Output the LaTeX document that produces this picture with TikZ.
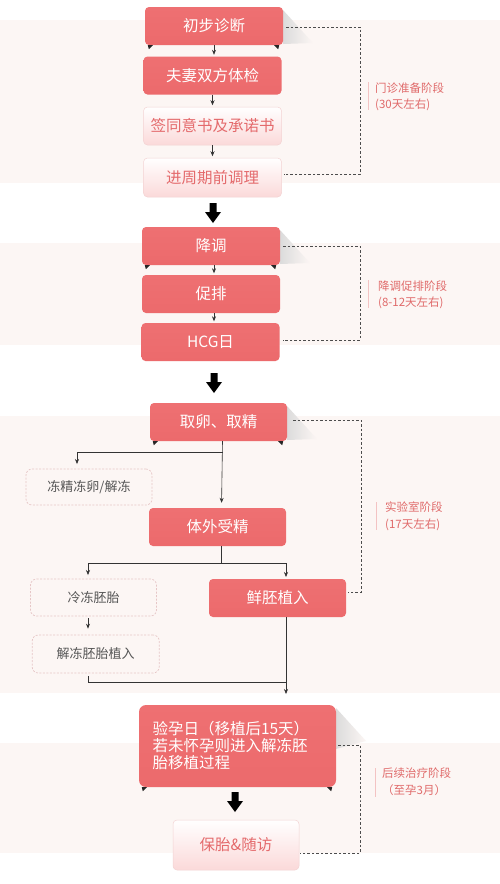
\documentclass[tikz,border=0pt]{standalone}
\usepackage{fontspec}
\newfontfamily\cjk{Noto Sans CJK SC}
\usetikzlibrary{arrows.meta,calc}
\definecolor{band}{HTML}{FCF6F4}
\definecolor{coralT}{HTML}{EE7072}
\definecolor{coralM}{HTML}{F68A8B}
\definecolor{coralB}{HTML}{EC6A6C}
\definecolor{pinkB}{HTML}{FBD9D9}
\definecolor{pinkLine}{HTML}{F3D3D3}
\definecolor{coralText}{HTML}{E46A6C}
\definecolor{labelc}{HTML}{E06A6A}
\definecolor{dashc}{HTML}{E6C6C6}
\definecolor{graytext}{HTML}{555555}
\newcommand\foldmarks[1]{%
  \fill[black!85] ($(#1.south west)+(3,0)$) -- ($(#1.south west)+(8,0)$) -- ($(#1.south west)+(4,4)$) -- cycle;
  \fill[black!85] ($(#1.south east)+(-9,0)$) -- ($(#1.south east)+(-4,0)$) -- ($(#1.south east)+(-5,4)$) -- cycle;}
% #1 right edge x, #2 top y, #3 bottom y
\newcommand\foldshadow[3]{%
  \shade[left color=black!14, right color=band] (#1,#2+3) -- (#1+30,#2+36) -- (#1,#3-1) -- cycle;}
\begin{document}
\begin{tikzpicture}[x=1pt,y=-1pt,
 base/.style={rounded corners=4pt, inner sep=0pt, minimum width=138pt, minimum height=38pt, font=\cjk\fontsize{15.5}{18}\selectfont},
 fbox/.style={base, top color=coralT, middle color=coralM, bottom color=coralB, text=white},
 lbox/.style={base, top color=white, bottom color=pinkB, draw=pinkLine, line width=0.5pt, text=coralText},
 dbox/.style={rounded corners=6pt, draw=dashc, dash pattern=on 2pt off 1.5pt, line width=0.7pt, minimum width=126pt, minimum height=37pt, inner sep=0pt, font=\cjk\fontsize{13}{15}\selectfont, text=graytext},
 arr/.style={-{Stealth[length=5pt,width=4pt]}, line width=0.6pt, draw=black!80},
 plain/.style={line width=0.6pt, draw=black!80},
 brk/.style={draw=black!70, line width=0.8pt, dash pattern=on 2.5pt off 2pt},
 lab/.style={font=\cjk\fontsize{11.5}{16.5}\selectfont, text=labelc, align=left, anchor=west, inner sep=0pt},
 vline/.style={draw=labelc!40, line width=0.8pt},
 bigarr/.pic={\fill[black] (-3.5,0) -- (3.5,0) -- (3.5,9) -- (8,9) -- (0,20) -- (-8,9) -- (-3.5,9) -- cycle;}
 ]
\useasboundingbox (0,0) rectangle (500,884);
\fill[white] (0,0) rectangle (500,884);
% bands
\fill[band] (0,20) rectangle (500,183);
\fill[band] (0,243) rectangle (500,345);
\fill[band] (0,416) rectangle (500,693);
\fill[band] (0,743) rectangle (500,853);

% fold shadows behind the first box of each stage
\foldshadow{283}{7}{45}
\foldshadow{280}{227}{265}
\foldshadow{287}{403}{441}
\foldshadow{336}{705}{750}

% stage 1
\node[fbox] (n1) at (214,26) {初步诊断};
\node[fbox] (n2) at (212.5,75.5) {夫妻双方体检};
\node[lbox] (n3) at (212.5,126) {签同意书及承诺书};
\node[lbox,minimum height=39pt] (n4) at (212.5,177.5) {进周期前调理};

% stage 2
\node[fbox] (n5) at (211,246) {降调};
\node[fbox] (n6) at (211,294) {促排};
\node[fbox] (n7) at (210.5,342) {HCG日};

% stage 3
\node[fbox,minimum width=137pt] (n8) at (218.5,422) {取卵、取精};
\node[fbox,minimum width=137pt] (n9) at (217.5,527) {体外受精};
\node[fbox,minimum width=137pt] (n10) at (277.5,598) {鲜胚植入};
\node[dbox,minimum height=36pt] (d1) at (89,487) {冻精冻卵/解冻};
\node[dbox] (d2) at (93.5,597.5) {冷冻胚胎};
\node[dbox,minimum height=38pt,minimum width=127pt] (d3) at (95.7,654) {解冻胚胎植入};

% stage 4
\node[fbox, rounded corners=7pt, minimum width=197pt, minimum height=82pt, text width=170pt, align=left, font=\cjk\fontsize{15.5}{17}\selectfont] (n11) at (237.5,746) {验孕日（移植后15天）\\若未怀孕则进入解冻胚\\胎移植过程};
\node[lbox, minimum width=126pt, minimum height=50pt] (n12) at (236,845) {保胎\&随访};

\foldmarks{n1}
\foldmarks{n5}
\foldmarks{n8}
\foldmarks{n11}

% small arrows stage 1,2
\draw[arr, shorten >=1.5pt] (n1.south) -- (n1.south |- n2.north);
\draw[arr, shorten >=1.5pt] (n2.south) -- (n2.south |- n3.north);
\draw[arr, shorten >=1.5pt] (n3.south) -- (n3.south |- n4.north);
\draw[arr, shorten >=1.5pt] ([xshift=3pt]n5.south) -- ([xshift=3pt]n5.south |- n6.north);
\draw[arr, shorten >=1.5pt] ([xshift=3pt]n6.south) -- ([xshift=3pt]n6.south |- n7.north);

% big arrows
\pic at (213,203) {bigarr};
\pic at (214,373) {bigarr};
\pic at (235,792) {bigarr};

% stage 3 connectors
\coordinate (b1) at (222.5,452);
\coordinate (c1) at (77,464);
\coordinate (b2) at (221.5,563);
\coordinate (c2) at (88,575);
\coordinate (c3) at (286,577);
\coordinate (c4) at (286,694);
\coordinate (c5) at (286,682);
\draw[arr, shorten >=5pt] ([xshift=4pt]n8.south) -- ([xshift=4pt]n9.north);
\draw[arr] (b1) -| (c1);
\draw[plain] ([xshift=4pt]n9.south) -- (b2);
\draw[arr] (b2) -| (c2);
\draw[arr] (b2) -| (c3);
\draw[arr, shorten <=2pt, shorten >=6pt] ([xshift=-5.5pt]d2.south) -- ([xshift=-7.7pt]d3.north);
\draw[arr] ([xshift=8.5pt]n10.south) -- (c4);
\draw[plain] ([xshift=-7.7pt,yshift=-3pt]d3.south) |- (c5);

% brackets
\coordinate (k1) at (360,100);
\coordinate (k2) at (360,300);
\coordinate (k3) at (361,500);
\coordinate (k4) at (360,800);
\draw[brk] ([xshift=3pt,yshift=-1pt]n1.east) -| (k1) |- ([xshift=2pt,yshift=3.5pt]n4.east);
\draw[brk] ([xshift=3pt]n5.east) -| (k2) |- ([xshift=3pt,yshift=2pt]n7.east);
\draw[brk] ([xshift=6pt,yshift=2pt]n8.east) -| (k3) |- ([xshift=2pt,yshift=6pt]n10.east);
\draw[brk] ([xshift=2pt,yshift=1pt]n11.east) -| (k4) |- ([xshift=1pt,yshift=-8pt]n12.east);

% stage labels
\draw[vline] (368,82) -- (368,110);
\node[lab] (l1) at (375,97) {门诊准备阶段\\(30天左右)};
\draw[vline] (368,280) -- (368,308);
\node[lab] (l2) at (378,295) {降调促排阶段\\(8-12天左右)};
\draw[vline] (376,502) -- (376,530);
\node[lab] (l3) at (385,516) {实验室阶段\\(17天左右)};
\draw[vline] (375,768) -- (375,797);
\node[lab] (l4) at (382,781.5) {后续治疗阶段\\（至孕3月）};
\end{tikzpicture}
\end{document}
